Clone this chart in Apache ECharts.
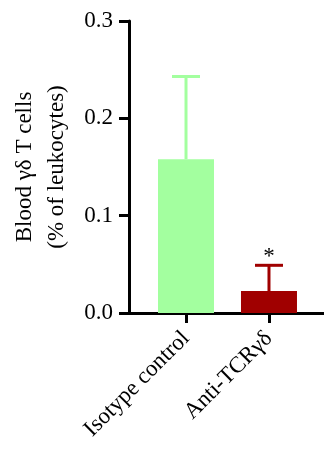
<!DOCTYPE html>
<html><head><meta charset="utf-8">
<script src="https://cdn.jsdelivr.net/npm/echarts@6/dist/echarts.min.js"></script>
<style>html,body{margin:0;padding:0;background:#fff}#c{width:324px;height:450px}</style>
</head><body><div id="c"></div>
<script>
const categories = ['Isotype control', 'Anti-TCRγδ'];
const means = [0.158, 0.0225];
const errUpper = [0.243, 0.049];
const significance = ['', '*'];
const yTicks = [0, 0.1, 0.2, 0.3];
const barColors = ['#A3FF9F', '#A00000'];

const FONT = 'Liberation Serif';
// warm up the font so later repaints use it
try {
  const warm = document.createElement('canvas').getContext('2d');
  warm.font = '23px "' + FONT + '"';
  warm.fillText('Blood γδ 0.3 *', 0, 20);
} catch (e) {}

const chart = echarts.init(document.getElementById('c'), null, {renderer: 'canvas'});
const xIdx = categories.map((c, i) => i);

chart.setOption({
  animation: true,
  animationDuration: 800,
  backgroundColor: '#fff',
  textStyle: {fontFamily: FONT},
  grid: {left: 129, right: 0, top: 21, bottom: 137},
  xAxis: {
    type: 'value', min: -0.687, max: 1.663,
    splitLine: {show: false},
    axisLine: {show: true, onZero: false, lineStyle: {color: '#000', width: 3}},
    axisTick: {show: true, customValues: xIdx, length: 10, lineStyle: {color: '#000', width: 3}},
    axisLabel: {show: true, customValues: xIdx, formatter: v => categories[Math.round(v)],
      rotate: 45, margin: 22, fontSize: 23, fontFamily: FONT, color: '#000'}
  },
  yAxis: {
    type: 'value', min: yTicks[0], max: yTicks[yTicks.length - 1], interval: 0.1,
    splitLine: {show: false},
    axisLine: {show: true, onZero: false, lineStyle: {color: '#000', width: 3}},
    axisTick: {show: true, length: 10, lineStyle: {color: '#000', width: 3}},
    axisLabel: {formatter: v => v.toFixed(1), margin: 16, fontSize: 23, fontFamily: FONT, color: '#000'},
    name: 'Blood γδ T cells\n(% of leukocytes)',
    nameLocation: 'middle', nameRotate: 90, nameGap: 53,
    nameTextStyle: {fontSize: 23, fontFamily: FONT, color: '#000', lineHeight: 32}
  },
  series: [
    {
      type: 'bar', barWidth: 56,
      data: means.map((m, i) => ({value: [i, m], itemStyle: {color: barColors[i]}}))
    },
    {
      type: 'custom', z: 1,
      data: means.map((m, i) => [i, m, errUpper[i]]),
      renderItem: (params, api) => {
        const i = params.dataIndex;
        const base = api.coord([api.value(0), api.value(1)]);
        const top = api.coord([api.value(0), api.value(2)]);
        const color = barColors[i];
        const capHalf = 14;
        const children = [
          {type: 'line', shape: {x1: base[0], y1: base[1], x2: top[0], y2: top[1]}, style: {stroke: color, lineWidth: 3}},
          {type: 'line', shape: {x1: top[0] - capHalf, y1: top[1], x2: top[0] + capHalf, y2: top[1]}, style: {stroke: color, lineWidth: 3}}
        ];
        if (significance[i]) {
          children.push({type: 'text', x: top[0], y: top[1] - 8,
            style: {text: significance[i], fontSize: 23, fontFamily: FONT, fill: '#000', align: 'center', verticalAlign: 'middle'}});
        }
        return {type: 'group', children};
      }
    }
  ]
});
</script>
</body></html>
